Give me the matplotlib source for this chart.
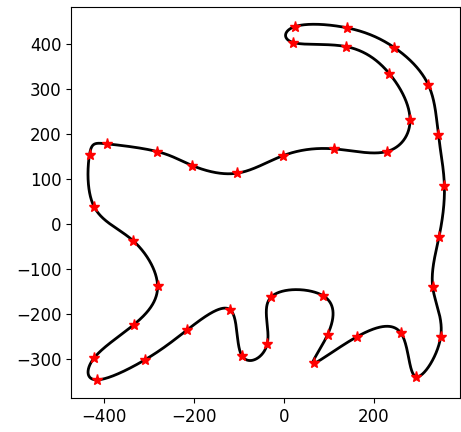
import numpy as np
import matplotlib
matplotlib.use("Agg")
import matplotlib.pyplot as plt

xs = [24.4, 140.7, 245, 320.7, 343, 356.3, 344.4, 330.4, 348, 292.6, 260, 163,
      66.7, 97, 87.4, -28.9, -37, -93.3, -119.3, -214.8, -308.9, -416.3, -421.5,
      -333, -280.7, -335.6, -421.5, -431.9, -392.6, -281.5, -203.7, -104.4, -1.5,
      111, 228, 280, 234, 137.8, 20.7]
ys = [438.5, 435.6, 391.9, 308.9, 197.8, 85.2, -28.9, -140.7, -251.9, -339.3, -243,
      -250.4, -309.6, -246, -160, -163, -266, -293.3, -191, -235.6, -302.2, -346.7,
      -297.8, -223.7, -138.5, -37, 37.8, 154, 177.8, 160.7, 129.6, 112.6, 151.8,
      166.7, 160.7, 231, 334, 394, 403]


def periodic_spline(t, v, tt):
    n = len(v)
    h = np.diff(t)
    m = n - 1
    A = np.zeros((m, m))
    rhs = np.zeros(m)
    for i in range(m):
        hp = h[i - 1] if i > 0 else h[m - 1]
        hn = h[i]
        A[i, (i - 1) % m] += hp
        A[i, i] += 2 * (hp + hn)
        A[i, (i + 1) % m] += hn
        vp = v[i - 1] if i > 0 else v[m - 1]
        rhs[i] = 6 * ((v[i + 1] - v[i]) / hn - (v[i] - vp) / hp)
    M = np.linalg.solve(A, rhs)
    M = np.append(M, M[0])
    idx = np.clip(np.searchsorted(t, tt) - 1, 0, m - 1)
    a = t[idx + 1] - tt
    b = tt - t[idx]
    hi = h[idx]
    return (M[idx] * a ** 3 + M[idx + 1] * b ** 3) / (6 * hi) + \
        (v[idx] / hi - M[idx] * hi / 6) * a + (v[idx + 1] / hi - M[idx + 1] * hi / 6) * b


px = np.array(xs + [xs[0]])
py = np.array(ys + [ys[0]])
t = np.linspace(0, 1, len(px))
tt = np.linspace(0, 1, 4000)
cx = periodic_spline(t, px, tt)
cy = periodic_spline(t, py, tt)

fig = plt.figure(figsize=(4.61, 4.32), dpi=100)
ax = fig.add_axes([71 / 461, 1 - 398 / 432, (460 - 71) / 461, (398 - 7) / 432])
ax.plot(cx, cy, color="black", lw=2)
ax.plot(xs, ys, "*", color="red", markersize=8)
ax.set_xlim(-473, 391)
ax.set_ylim(-387, 482)
ax.set_xticks([-400, -200, 0, 200])
ax.set_yticks([-300, -200, -100, 0, 100, 200, 300, 400])
ax.tick_params(labelsize=12)
fig.savefig("out.png", dpi=100)
